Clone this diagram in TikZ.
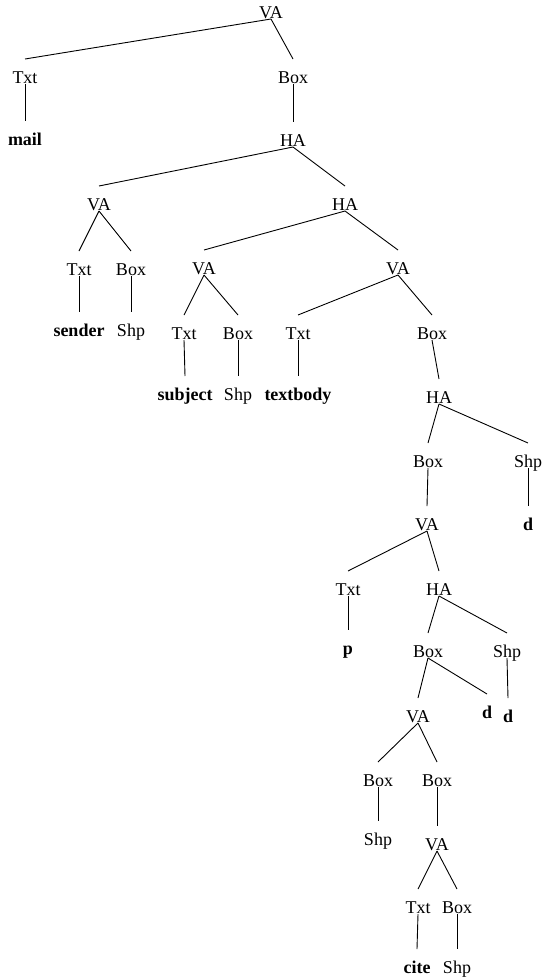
\documentclass[tikz,border=0pt]{standalone}
\usepackage{fontspec}
\setmainfont{Liberation Serif}
\newcommand\tedge[2]{\draw[edgeline] ([yshift=-1pt]#1.base) -- ([yshift=24pt]#2.base);}
\begin{document}
\begin{tikzpicture}[x=1pt,y=-1pt,
  lbl/.style={inner sep=0pt, anchor=base, font=\fontsize{18}{20}\selectfont},
  leaf/.style={inner sep=0pt, anchor=base, font=\fontsize{18}{20}\selectfont\bfseries},
  edgeline/.style={line width=0.9pt, black}]
\useasboundingbox (0,0) rectangle (542,980);
% level 0
\node[lbl] (va0) at (271,18) {VA};
% level 1
\node[lbl] (txt1) at (25,83) {Txt};
\node[lbl] (box1) at (293,83) {Box};
% level 2
\node[leaf] (mail) at (25,145) {mail};
\node[lbl] (ha2) at (293,146) {HA};
% level 3
\node[lbl] (va3) at (99,210) {VA};
\node[lbl] (ha3) at (345,210) {HA};
% level 4
\node[lbl] (txt4) at (79,275) {Txt};
\node[lbl] (box4) at (131,275) {Box};
\node[lbl] (va4a) at (204,274) {VA};
\node[lbl] (va4b) at (398,274) {VA};
% level 5
\node[leaf] (sender) at (79,336) {sender};
\node[lbl] (shp5) at (131,336) {Shp};
\node[lbl] (txt5a) at (184,339) {Txt};
\node[lbl] (box5a) at (238,339) {Box};
\node[lbl] (txt5b) at (298,339) {Txt};
\node[lbl] (box5b) at (432,339) {Box};
% level 6
\node[leaf] (subject) at (185,400) {subject};
\node[lbl] (shp6) at (238,400) {Shp};
\node[leaf] (textbody) at (298,400) {textbody};
\node[lbl] (ha6) at (439,403) {HA};
% level 7
\node[lbl] (box7) at (428,467) {Box};
\node[lbl] (shp7) at (528,467) {Shp};
% level 8
\node[lbl] (va8) at (427,530) {VA};
\node[leaf] (d8) at (528,530) {d};
% level 9
\node[lbl] (txt9) at (348,595) {Txt};
\node[lbl] (ha9) at (439,595) {HA};
% level 10
\node[leaf] (p10) at (348,654) {p};
\node[lbl] (box10) at (428,657) {Box};
\node[lbl] (shp10) at (507,657) {Shp};
% level 11
\node[lbl] (va11) at (418,722) {VA};
\node[leaf] (d11a) at (487,718) {d};
\node[leaf] (d11b) at (508,722) {d};
% level 12
\node[lbl] (box12a) at (378,786) {Box};
\node[lbl] (box12b) at (437,786) {Box};
% level 13
\node[lbl] (shp13) at (378,845) {Shp};
\node[lbl] (va13) at (437,850) {VA};
% level 14
\node[lbl] (txt14) at (418,913) {Txt};
\node[lbl] (box14) at (457,913) {Box};
% level 15
\node[leaf] (cite) at (417,973) {cite};
\node[lbl] (shp15) at (457,973) {Shp};
% edges
\tedge{va0}{txt1}
\tedge{va0}{box1}
\tedge{txt1}{mail}
\tedge{box1}{ha2}
\tedge{ha2}{va3}
\tedge{ha2}{ha3}
\tedge{va3}{txt4}
\tedge{va3}{box4}
\tedge{ha3}{va4a}
\tedge{ha3}{va4b}
\tedge{txt4}{sender}
\tedge{box4}{shp5}
\tedge{va4a}{txt5a}
\tedge{va4a}{box5a}
\tedge{va4b}{txt5b}
\tedge{va4b}{box5b}
\tedge{txt5a}{subject}
\tedge{box5a}{shp6}
\tedge{txt5b}{textbody}
\tedge{box5b}{ha6}
\tedge{ha6}{box7}
\tedge{ha6}{shp7}
\tedge{box7}{va8}
\tedge{shp7}{d8}
\tedge{va8}{txt9}
\tedge{va8}{ha9}
\tedge{txt9}{p10}
\tedge{ha9}{box10}
\tedge{ha9}{shp10}
\tedge{box10}{va11}
\tedge{box10}{d11a}
\tedge{shp10}{d11b}
\tedge{va11}{box12a}
\tedge{va11}{box12b}
\tedge{box12a}{shp13}
\tedge{box12b}{va13}
\tedge{va13}{txt14}
\tedge{va13}{box14}
\tedge{txt14}{cite}
\tedge{box14}{shp15}
\end{tikzpicture}
\end{document}
